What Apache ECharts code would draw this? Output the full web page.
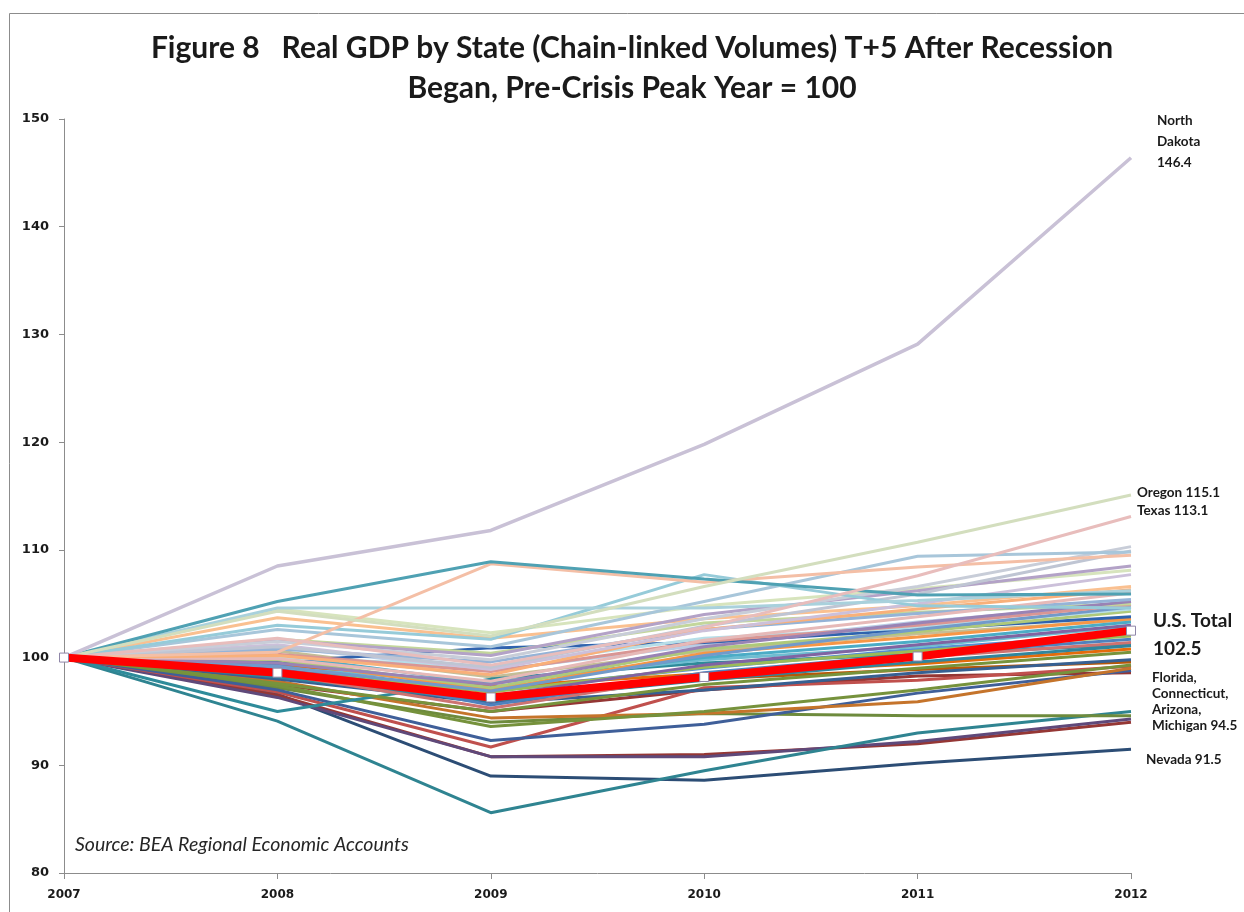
<!DOCTYPE html>
<html>
<head>
<meta charset="utf-8">
<script src="https://cdn.jsdelivr.net/npm/echarts@6/dist/echarts.min.js"></script>
<style>
html,body{margin:0;padding:0;background:#fff;}
#chart{width:1244px;height:912px;}
</style>
</head>
<body>
<div id="chart"></div>
<script>
// ---- Data ----
var years = ['2007', '2008', '2009', '2010', '2011', '2012'];
var yTicks = [80, 90, 100, 110, 120, 130, 140, 150];

var stateNames = [
  'North Dakota', 'Oregon', 'Texas', 'State 4', 'State 5', 'State 6', 'State 7', 'State 8',
  'State 9', 'State 10', 'State 11', 'State 12', 'State 13', 'State 14', 'State 15', 'State 16',
  'State 17', 'State 18', 'State 19', 'State 20', 'State 21', 'State 22', 'State 23', 'State 24',
  'State 25', 'State 26', 'State 27', 'State 28', 'State 29', 'State 30', 'State 31', 'State 32',
  'State 33', 'State 34', 'State 35', 'State 36', 'State 37', 'State 38', 'State 39', 'State 40',
  'State 41', 'State 42', 'State 43', 'State 44', 'State 45',
  'Florida', 'Arizona', 'Michigan', 'Connecticut', 'Nevada'
];

var stateValues = [
  [100, 108.5, 111.8, 119.8, 129.1, 146.4],
  [100, 104.3, 102.0, 106.6, 110.7, 115.1],
  [100, 101.8, 99.3, 102.8, 107.6, 113.1],
  [100, 105.2, 108.9, 107.3, 105.8, 105.9],
  [100, 100.5, 108.7, 107.0, 108.4, 109.5],
  [100, 104.6, 104.6, 104.6, 105.3, 106.2],
  [100, 103.0, 101.7, 107.7, 104.8, 104.6],
  [100, 102.6, 101.0, 105.2, 109.4, 109.8],
  [100, 101.5, 99.8, 103.6, 106.6, 110.3],
  [100, 101.0, 99.1, 102.9, 105.9, 109.9],
  [100, 101.6, 100.2, 104.0, 106.2, 108.5],
  [100, 104.5, 102.3, 104.8, 106.4, 108.1],
  [100, 101.2, 98.9, 102.5, 105.0, 107.7],
  [100, 103.7, 101.8, 103.6, 104.8, 106.6],
  [100, 100.2, 98.4, 102.6, 104.5, 106.3],
  [100, 99.9, 97.8, 101.6, 103.8, 106.0],
  [100, 100.8, 99.6, 102.6, 104.1, 105.4],
  [100, 99.5, 97.5, 101.0, 103.2, 105.2],
  [100, 101.7, 100.4, 103.2, 104.2, 105.0],
  [100, 100.3, 98.7, 101.5, 103.0, 104.9],
  [100, 99.2, 96.9, 100.2, 102.6, 104.7],
  [100, 100.0, 99.2, 101.8, 102.8, 104.5],
  [100, 99.8, 97.2, 100.8, 102.4, 104.3],
  [100, 99.6, 100.9, 101.4, 102.6, 103.8],
  [100, 99.7, 97.0, 100.4, 101.9, 103.6],
  [100, 100.2, 97.6, 100.0, 101.5, 103.3],
  [100, 98.9, 96.4, 99.3, 101.2, 103.0],
  [100, 99.0, 97.7, 99.8, 101.0, 102.9],
  [100, 98.8, 96.8, 99.1, 100.6, 102.0],
  [100, 99.3, 95.6, 98.6, 100.3, 101.7],
  [100, 98.5, 95.3, 98.4, 100.0, 101.4],
  [100, 98.2, 96.0, 97.9, 99.6, 101.1],
  [100, 99.4, 97.3, 98.5, 99.4, 100.8],
  [100, 97.6, 95.0, 97.5, 99.0, 100.5],
  [100, 95.0, 98.0, 99.5, 100.3, 101.2],
  [100, 98.0, 95.8, 97.0, 98.6, 99.8],
  [100, 97.4, 93.6, 95.0, 97.0, 99.3],
  [100, 97.8, 94.4, 94.8, 95.9, 99.0],
  [100, 97.0, 92.3, 93.8, 96.7, 98.8],
  [100, 96.8, 91.7, 97.2, 97.9, 99.2],
  [100, 97.5, 95.0, 97.0, 98.3, 98.6],
  [100, 98.3, 95.9, 98.0, 98.9, 99.6],
  [100, 99.0, 97.0, 99.0, 100.8, 102.2],
  [100, 100.6, 98.2, 100.6, 102.2, 103.5],
  [100, 101.0, 98.8, 101.2, 103.3, 105.0],
  [100, 97.2, 94.0, 94.8, 94.6, 94.6],
  [100, 94.1, 85.6, 89.5, 93.0, 95.0],
  [100, 96.3, 90.8, 90.8, 92.2, 94.3],
  [100, 96.5, 90.8, 91.0, 92.0, 94.0],
  [100, 96.6, 89.0, 88.6, 90.2, 91.5]
];

var usTotal = [100, 98.6, 96.3, 98.2, 100.1, 102.5];

// ---- Styles (separate from data) ----
var stateColors = [
  '#C9C1D6', '#D3DEBE', '#E8BDBC', '#4FA1B3', '#F4BFA6', '#A9D1DC', '#96CBD9', '#A8C6DA',
  '#C8CDD8', '#BFC5D3', '#B3A2C7', '#D7E4BD', '#CCC0DA', '#FAC090', '#F9B07A', '#E6B9B8',
  '#95B3D7', '#9983B5', '#C3D69B', '#D99694', '#729ACA', '#B7DEE8', '#AFC97A', '#2F63AE',
  '#F79646', '#4BACC6', '#8064A2', '#6FBDD1', '#9BBB59', '#4F81BD', '#CD7371', '#31859C',
  '#E46C0A', '#77933C', '#2E8B9A', '#376092', '#76923C', '#C5742B', '#3F5F99', '#C0504D',
  '#943634', '#B65708', '#558ED5', '#C4BD97', '#B9CDE5',
  '#6E8B3D', '#2F8491', '#5F497A', '#953735', '#2C4D75'
];

var chart = echarts.init(document.getElementById('chart'), null, {renderer: 'canvas'});

var series = [];
for (var i = stateValues.length - 1; i >= 0; i--) {
  series.push({
    name: stateNames[i],
    type: 'line',
    data: stateValues[i],
    symbol: 'none',
    silent: true,
    z: 2,
    lineStyle: {width: i === 0 ? 3.5 : 3, color: stateColors[i]}
  });
}
series.push({
  name: 'U.S. Total',
  type: 'line',
  data: usTotal,
  symbol: 'rect',
  symbolSize: 9,
  showAllSymbol: true,
  z: 5,
  lineStyle: {width: 8, color: '#FF0000'},
  itemStyle: {color: '#FFFFFF', borderColor: '#8f86a8', borderWidth: 1}
});

var lblFont = 'bold 13.5px Lato';
var option = {
  animation: false,
  backgroundColor: '#ffffff',
  grid: {left: 64, right: 113, top: 119, bottom: 39, containLabel: false},
  xAxis: {
    type: 'category',
    data: years,
    boundaryGap: false,
    axisLine: {lineStyle: {color: '#8c8c8c', width: 1}},
    axisTick: {show: true, length: 6, inside: false, lineStyle: {color: '#8c8c8c'}},
    axisLabel: {fontFamily: 'DejaVu Sans', fontWeight: 'bold', fontSize: 12, color: '#1a1a1a', margin: 16},
    splitLine: {show: false}
  },
  yAxis: {
    type: 'value',
    min: yTicks[0],
    max: yTicks[yTicks.length - 1],
    interval: 10,
    axisLine: {show: true, lineStyle: {color: '#8c8c8c', width: 1}},
    axisTick: {show: true, length: 5, lineStyle: {color: '#8c8c8c'}},
    axisLabel: {fontFamily: 'DejaVu Sans', fontWeight: 'bold', fontSize: 13, color: '#1a1a1a', margin: 15},
    splitLine: {show: false}
  },
  series: series,
  graphic: [
    {type: 'rect', silent: true, shape: {x: 9.5, y: 13.5, width: 1240, height: 930},
     style: {fill: 'none', stroke: '#8c8c8c', lineWidth: 1}, z: 0},
    {type: 'text', silent: true, style: {text: 'Figure 8   Real GDP by State (Chain-linked Volumes) T+5 After Recession',
      x: 632, y: 48, textAlign: 'center', textVerticalAlign: 'middle', font: 'bold 30px Lato', fill: '#1a1a1a'}},
    {type: 'text', silent: true, style: {text: 'Began, Pre-Crisis Peak Year = 100',
      x: 632, y: 88, textAlign: 'center', textVerticalAlign: 'middle', font: 'bold 30px Lato', fill: '#1a1a1a'}},
    {type: 'text', silent: true, style: {text: 'North\nDakota\n146.4', x: 1157, y: 110, lineHeight: 21,
      font: lblFont, fill: '#1a1a1a'}},
    {type: 'text', silent: true, style: {text: 'Oregon 115.1\nTexas 113.1', x: 1137, y: 484, lineHeight: 18,
      font: lblFont, fill: '#1a1a1a'}},
    {type: 'text', silent: true, style: {text: 'U.S. Total\n102.5', x: 1153, y: 607, lineHeight: 28,
      font: 'bold 19px Lato', fill: '#1a1a1a'}},
    {type: 'text', silent: true, style: {text: 'Florida,\nConnecticut,\nArizona,\nMichigan 94.5', x: 1152, y: 670,
      lineHeight: 16, font: lblFont, fill: '#1a1a1a'}},
    {type: 'text', silent: true, style: {text: 'Nevada 91.5', x: 1146, y: 752, lineHeight: 16,
      font: lblFont, fill: '#1a1a1a'}},
    {type: 'text', silent: true, style: {text: 'Source: BEA Regional Economic Accounts', x: 75, y: 845,
      textVerticalAlign: 'middle', font: 'italic 19.5px Lato', fill: '#262626'}}
  ]
};
chart.setOption(option);
</script>
</body>
</html>
